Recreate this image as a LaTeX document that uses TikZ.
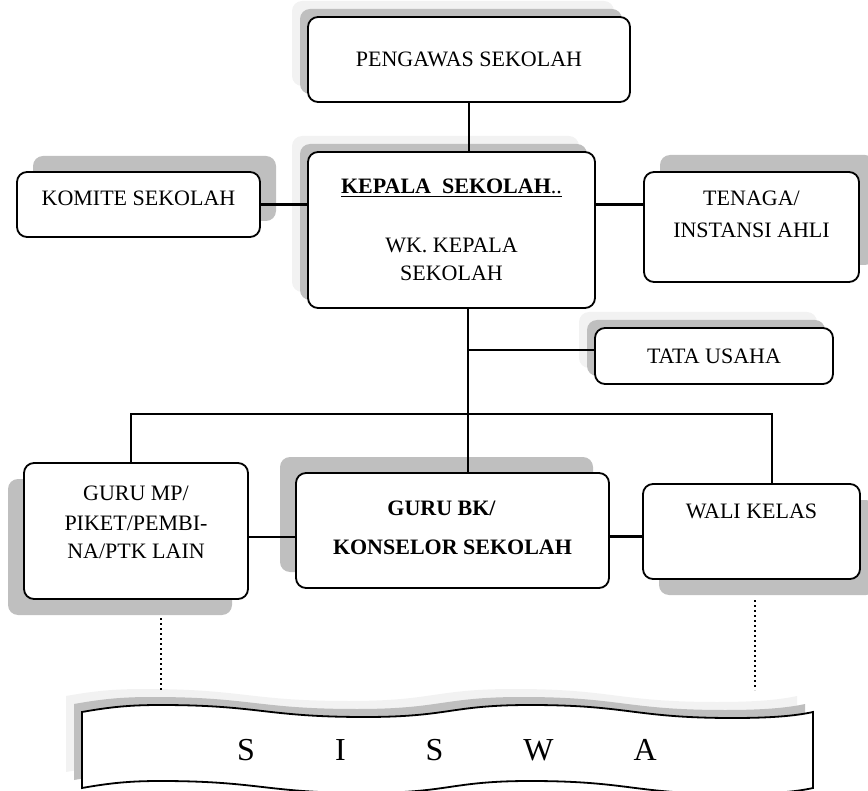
\documentclass[tikz,border=0pt]{standalone}
\usepackage{fontspec}
\setmainfont{Liberation Serif}
\usetikzlibrary{shadows, positioning, calc}
\definecolor{AbuTua}{RGB}{191,191,191}
\definecolor{AbuMuda}{RGB}{242,242,242}
\newcommand{\jalurpita}{(82,712) .. controls (110,707) and (130,705) .. (160,705)
	.. controls (260,705) and (265,717) .. (365,717)
	.. controls (450,717) and (450,705) .. (530,705)
	.. controls (630,705) and (633,718) .. (733,718)
	.. controls (770,718) and (795,716) .. (813,712) -- (813,788)
	.. controls (795,792) and (770,794) .. (733,794)
	.. controls (633,794) and (630,781) .. (530,781)
	.. controls (450,781) and (450,793) .. (365,793)
	.. controls (265,793) and (260,781) .. (160,781)
	.. controls (130,781) and (110,783) .. (82,788) -- cycle}

\begin{document}
\begin{tikzpicture}[x=0.5pt, y=-0.5pt, font=\fontsize{11}{14}\selectfont,
	kotak/.style={rectangle, draw=black, line width=0.9pt, rounded corners=5pt,
		fill=white, align=center, inner sep=0pt},
	bayang/.style 2 args={general shadow={shadow xshift=#1, shadow yshift=#2, fill=AbuTua}},
	bayangganda/.style={general shadow={shadow xshift=-8pt, shadow yshift=8pt, fill=AbuMuda},
		general shadow={shadow xshift=-4pt, shadow yshift=4pt, fill=AbuTua}},
	naik/.style={text depth=#1},
	garis/.style={line width=1.1pt},
	titik/.style={line width=1.3pt, dash pattern=on 1.2pt off 1.3pt}]

	\useasboundingbox (0,0) rectangle (868,791);
	\clip (0,0) rectangle (868,791);

	\node[kotak, bayangganda, minimum width=161pt, minimum height=42.5pt] (pengawas) at (469,59.5) {PENGAWAS SEKOLAH};
	\node[kotak, bayangganda, minimum width=143.5pt, minimum height=78pt] (kepala) at (451.5,230)
		{\underline{\textbf{KEPALA\ \ SEKOLAH}..}\\[15.5pt]WK. KEPALA\\SEKOLAH};
	\node[kotak, bayang={8pt}{8pt}, naik=6.5pt, minimum width=121.5pt, minimum height=32.5pt] (komite) at (138.5,204.5) {KOMITE SEKOLAH};
	\node[kotak, bayang={8pt}{8.5pt}, naik=13pt, minimum width=107.5pt, minimum height=55pt] (tenaga) at (751.5,227)
		{TENAGA/\\[2pt]INSTANSI AHLI};
	\node[kotak, bayangganda, minimum width=119pt, minimum height=28pt] (tatausaha) at (714,356) {TATA USAHA};
	\node[kotak, bayang={-8pt}{-8pt}, naik=9pt, minimum width=112pt, minimum height=68pt] (gurump) at (136,531)
		{GURU MP/\\[1pt]PIKET/PEMBI-\\NA/PTK LAIN};
	\node[kotak, bayang={-8pt}{8pt}, naik=3pt, minimum width=156.5pt, minimum height=57.5pt,
		font=\fontsize{11}{14}\selectfont\bfseries] (gurubk) at (452.5,530.5)
		{GURU BK/\hspace*{11pt}\\[5.5pt]KONSELOR SEKOLAH};
	\node[kotak, bayang={8pt}{-8pt}, naik=20.5pt, minimum width=108.5pt, minimum height=47.5pt] (wali) at (751.5,531.5) {WALI KELAS};

	\fill[AbuMuda, shift={(-16,-16)}] \jalurpita;
	\fill[AbuTua, shift={(-8,-8)}] \jalurpita;
	\draw[fill=white, line width=0.9pt] \jalurpita;
	\node[font=\fontsize{16}{18}\selectfont] (siswa) at (447,750)
		{S\hspace{40pt}I\hspace{40pt}S\hspace{40pt}W\hspace{40pt}A};

	\coordinate (batangTU) at (468,350);
	\coordinate (kiri) at (131,414);
	\coordinate (kanan) at (772,414);
	\coordinate (ujungKiri) at (161,618);
	\coordinate (pitaKiri) at (161,690);
	\coordinate (ujungKanan) at (755,600);
	\coordinate (pitaKanan) at (755,690);

	\draw[garis] (pengawas.south) -- (pengawas.south |- kepala.north);
	\draw[garis] (batangTU |- kepala.south) -- (batangTU |- gurubk.north);
	\draw[garis] (komite.east) -- (komite.east -| kepala.west);
	\draw[garis] (komite.east -| kepala.east) -- (komite.east -| tenaga.west);
	\draw[garis] (batangTU) -- (batangTU -| tatausaha.west);
	\draw[garis] (kiri |- gurump.north) -- (kiri) -- (kanan) -- (kanan |- wali.north);
	\draw[garis] ([yshift=-3pt]gurump.east) -- ([yshift=-3pt]gurump.east -| gurubk.west);
	\draw[garis] ([yshift=-3pt]gurubk.east) -- ([yshift=-3pt]gurubk.east -| wali.west);
	\draw[titik] (ujungKiri) -- (pitaKiri);
	\draw[titik] (ujungKanan) -- (pitaKanan);
\end{tikzpicture}
\end{document}
